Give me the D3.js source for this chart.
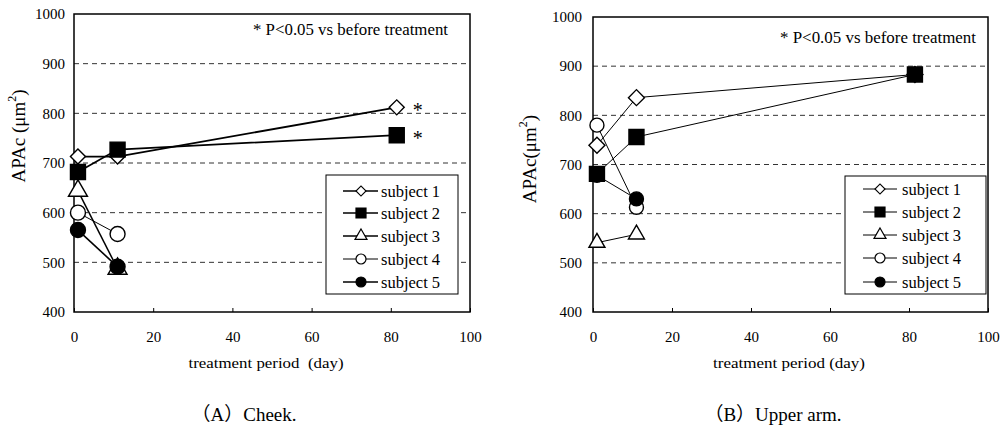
<!DOCTYPE html>
<html><head><meta charset="utf-8">
<script src="https://cdn.jsdelivr.net/npm/d3@7"></script>
<style>
body{margin:0;background:#fff}
svg{display:block}
text{font-family:"Liberation Serif","Times New Roman",serif;fill:#000}
</style>
</head><body>
<svg id="c" width="1006" height="430"></svg>
<script>
// ---- data ----
const days = [1, 11, 81.5];
const subjects = ["subject 1", "subject 2", "subject 3", "subject 4", "subject 5"];
const xTicks = [0, 20, 40, 60, 80, 100];
const yTicks = [400, 500, 600, 700, 800, 900, 1000];
const gridValues = [500, 600, 700, 800, 900];

const cheekSubject1 = [713, 713, 812];
const cheekSubject2 = [682, 727, 756];
const cheekSubject3 = [644, 487, null];
const cheekSubject4 = [600, 557, null];
const cheekSubject5 = [565, 491, null];

const armSubject1 = [739, 836, 883];
const armSubject2 = [681, 756, 883];
const armSubject3 = [541, 558, null];
const armSubject4 = [780, 613, null];
const armSubject5 = [678, 630, null];

const cheekStars = [812, 756];   // significant end values
const note = "* P<0.05 vs before treatment";

// ---- styles ----
const markerTypes = ["diamond", "square", "triangle", "circle", "circle"];
const markerFill = ["#fff", "#000", "#fff", "#fff", "#000"];
const drawOrder = [0, 2, 3, 4, 1];

const svg = d3.select("#c");

function symbolPath(type, s) {
  if (type === "square") return d3.symbol(d3.symbolSquare, s * s)();
  if (type === "diamond") return d3.symbol(d3.symbolSquare, (s * s) / 2)();
  if (type === "circle") return d3.symbol(d3.symbolCircle, Math.PI * (s / 2) * (s / 2))();
  if (type === "triangle") return d3.symbol(d3.symbolTriangle, Math.sqrt(3) / 4 * s * s)();
}
function marker(g, type, fill, cx, cy, s, sw) {
  g.append("path")
    .attr("d", symbolPath(type, s))
    .attr("transform", `translate(${cx},${cy})` + (type === "diamond" ? " rotate(45)" : ""))
    .attr("fill", fill).attr("stroke", "#000").attr("stroke-width", sw);
}

const panels = [
  {
    x0: 74, x1: 470, y0: 14, y1: 312,
    series: [cheekSubject1, cheekSubject2, cheekSubject3, cheekSubject4, cheekSubject5],
    lineW: [1.8, 1.8, 1.5, 1, 1.6],
    msize: [15, 15, 19, 15, 15],
    yPad: 9,
    legend: {x: 326, y: 175, w: 132, h: 119, lx0: 343, lx1: 378, mx: 361, tx: 381, rows: [191, 213, 236, 259, 282]},
    noteX: 253, noteY: 35, noteLen: 195,
    ytitle: {x: 18, y: 136, text: "APAc (μm"},
    xtitle: {x: 266, y: 368, text: "treatment period\u00a0\u00a0(day)", len: 155},
    caption: {x: 244, y: 421, text: "（A）Cheek."},
    stars: true
  },
  {
    x0: 593, x1: 988, y0: 17, y1: 312,
    series: [armSubject1, armSubject2, armSubject3, armSubject4, armSubject5],
    lineW: [1, 1, 1, 1, 1],
    msize: [16, 15, 16, 14, 14],
    yPad: 11,
    legend: {x: 845, y: 176, w: 141, h: 118, lx0: 863, lx1: 897, mx: 880, tx: 902, rows: [189, 212, 235, 258, 282]},
    noteX: 780, noteY: 43, noteLen: 196,
    ytitle: {x: 529, y: 159, text: "APAc(μm"},
    xtitle: {x: 789, y: 368, text: "treatment period (day)", len: 152},
    caption: {x: 773, y: 421, text: "（B）Upper arm."},
    stars: false
  }
];

panels.forEach(p => {
  const x = d3.scaleLinear().domain([0, 100]).range([p.x0, p.x1]);
  const y = d3.scaleLinear().domain([400, 1000]).range([p.y1, p.y0]);
  const g = svg.append("g");

  g.selectAll(".grid").data(gridValues).enter().append("line")
    .attr("x1", p.x0).attr("x2", p.x1)
    .attr("y1", d => y(d)).attr("y2", d => y(d))
    .attr("stroke", "#333").attr("stroke-width", 1).attr("stroke-dasharray", "5,4");

  const xa = g.append("g").attr("transform", `translate(0,${p.y1})`)
    .call(d3.axisBottom(x).tickValues(xTicks).tickFormat(d3.format("d"))
      .tickSizeInner(-4).tickSizeOuter(0).tickPadding(19));
  xa.attr("font-family", null);
  xa.select(".domain").remove();
  xa.selectAll("line").attr("stroke", "#000");
  xa.selectAll("text").attr("font-size", 15);

  const ya = g.append("g").attr("transform", `translate(${p.x0},0)`)
    .call(d3.axisLeft(y).tickValues(yTicks).tickFormat(d3.format("d")).tickSize(0).tickPadding(p.yPad));
  ya.attr("font-family", null);
  ya.select(".domain").remove();
  ya.selectAll("text").attr("font-size", 15);

  g.append("rect").attr("x", p.x0).attr("y", p.y0)
    .attr("width", p.x1 - p.x0).attr("height", p.y1 - p.y0)
    .attr("fill", "none").attr("stroke", "#000").attr("stroke-width", 1.5);

  const line = d3.line().defined(d => d.v != null).x(d => x(d.d)).y(d => y(d.v));
  p.series.forEach((s, i) => {
    const pts = s.map((v, k) => ({d: days[k], v: v}));
    g.append("path").attr("d", line(pts)).attr("fill", "none")
      .attr("stroke", "#000").attr("stroke-width", p.lineW[i]);
  });
  drawOrder.forEach(i => {
    p.series[i].forEach((v, k) => {
      if (v == null) return;
      marker(g, markerTypes[i], markerFill[i], x(days[k]), y(v), p.msize[i], 1.4);
    });
  });

  if (p.stars) {
    cheekStars.forEach(v => {
      g.append("text").attr("x", x(days[2]) + 21).attr("y", y(v) + 10)
        .attr("text-anchor", "middle").attr("font-size", 20).text("*");
    });
  }

  g.append("text").attr("x", p.noteX).attr("y", p.noteY)
    .attr("font-size", 16).attr("textLength", p.noteLen).attr("lengthAdjust", "spacingAndGlyphs")
    .text(note);

  const L = p.legend;
  g.append("rect").attr("x", L.x).attr("y", L.y).attr("width", L.w).attr("height", L.h)
    .attr("fill", "#fff").attr("stroke", "#000").attr("stroke-width", 1);
  subjects.forEach((name, i) => {
    const ry = L.rows[i];
    g.append("line").attr("x1", L.lx0).attr("x2", L.lx1).attr("y1", ry).attr("y2", ry)
      .attr("stroke", "#000").attr("stroke-width", p.lineW[i] > 1.2 ? 1.6 : 1);
    const ls = markerTypes[i] === "triangle" ? 12 : 10;
    marker(g, markerTypes[i], markerFill[i], L.mx, ry, ls, 1.2);
    g.append("text").attr("x", L.tx).attr("y", ry).attr("dy", "0.35em")
      .attr("font-size", 16.5).text(name);
  });

  const yt = g.append("text")
    .attr("transform", `translate(${p.ytitle.x},${p.ytitle.y}) rotate(-90)`)
    .attr("text-anchor", "middle").attr("dy", "0.35em").attr("font-size", 19);
  yt.append("tspan").text(p.ytitle.text);
  yt.append("tspan").attr("font-size", 12).attr("dy", "-0.75em").text("2");
  yt.append("tspan").attr("dy", "0.5em").text(")");

  g.append("text").attr("x", p.xtitle.x).attr("y", p.xtitle.y)
    .attr("text-anchor", "middle").attr("font-size", 15)
    .attr("textLength", p.xtitle.len).attr("lengthAdjust", "spacingAndGlyphs")
    .text(p.xtitle.text);

  g.append("text").attr("x", p.caption.x).attr("y", p.caption.y)
    .attr("text-anchor", "middle").attr("font-size", 19)
    .style("font-family", "'Liberation Serif','Noto Sans CJK JP',serif")
    .text(p.caption.text);
});
</script>
</body></html>
